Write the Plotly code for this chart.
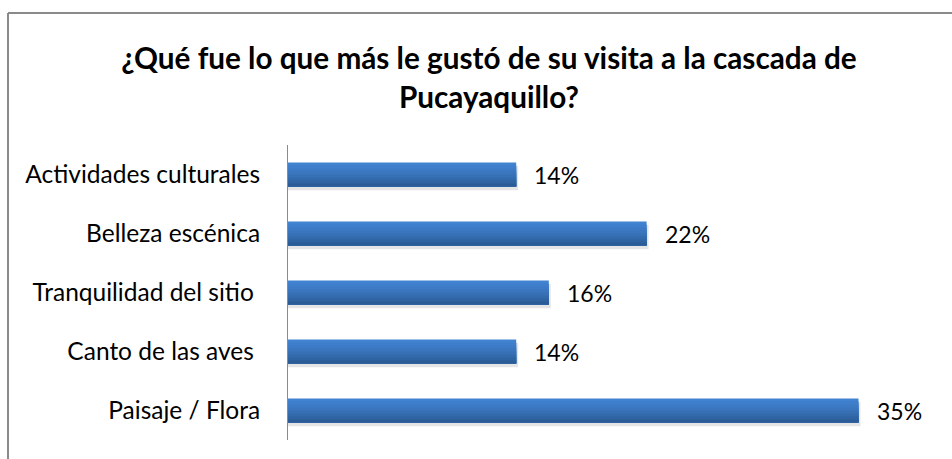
import plotly.graph_objects as go

# Survey answers (percent of respondents)
categories = [
    "Actividades culturales",
    "Belleza escénica",
    "Tranquilidad del sitio\u00a0",
    "Canto de las aves\u00a0",
    "Paisaje / Flora",
]
values = [14, 22, 16, 14, 35]
value_labels = ["14%", "22%", "16%", "14%", "35%"]

title_text = "<b>¿Qué fue lo que más le gustó de su visita a la cascada de<br>Pucayaquillo?</b>"

# Vertical gradient of each bar, top to bottom
stripe_colors = ["#4183d0", "#3e7ecb", "#3c7ac5", "#3a75bd", "#3770b5", "#336aab", "#2f63a1", "#2b5c96"]

W, H = 952, 459
L, R, T, B = 288, 12, 145, 19
X_MAX = 40
bar_h = 0.41

fig = go.Figure()

# soft drop shadow under each bar
fig.add_trace(go.Bar(
    x=[v + 0.12 for v in values], y=categories, orientation="h",
    width=bar_h, offset=-bar_h / 2 + 0.06,
    marker=dict(color="rgba(0,0,0,0.10)", line=dict(width=0)),
    hoverinfo="skip", showlegend=False,
))

# each band runs from its own top edge down to the bar bottom, so later
# bands cover the lower part of earlier ones without leaving seams
n = len(stripe_colors)
for i, c in enumerate(stripe_colors):
    top = -bar_h / 2 + i * bar_h / n
    fig.add_trace(go.Bar(
        x=values, y=categories, orientation="h",
        width=bar_h / 2 - top, offset=top,
        marker=dict(color=c, line=dict(width=0)),
        hoverinfo="skip", showlegend=False,
    ))

for cat, v, lab in zip(categories, values, value_labels):
    fig.add_annotation(
        x=v, y=cat, text=lab, showarrow=False,
        xanchor="left", yanchor="middle", xshift=16,
        font=dict(family="Lato", size=23, color="#000000"),
    )

pw, ph = W - L - R, H - T - B


def px_x(p):
    return (p - L) / pw


def px_y(p):
    return (H - B - p) / ph


# chart frame (left and top edges)
frame = dict(type="line", xref="paper", yref="paper", line=dict(color="#8a8a8a", width=2))
fig.add_shape(**frame, x0=px_x(8), x1=px_x(8), y0=px_y(13), y1=px_y(470))
fig.add_shape(**frame, x0=px_x(8), x1=px_x(960), y0=px_y(13), y1=px_y(13))

fig.update_layout(
    width=W, height=H,
    margin=dict(l=L, r=R, t=T, b=B),
    paper_bgcolor="white", plot_bgcolor="white",
    barmode="overlay",
    title=dict(
        text=title_text, xref="container", yref="container",
        x=489 / W, xanchor="center", y=1 - 69 / H, yanchor="top",
        font=dict(family="Lato", size=29.7, color="#000000"),
    ),
    xaxis=dict(range=[0, X_MAX], visible=False, fixedrange=True),
    yaxis=dict(
        categoryorder="array", categoryarray=categories,
        autorange="reversed",
        showline=True, linecolor="#8a8a8a", linewidth=1,
        showgrid=False, zeroline=False,
        ticks="outside", ticklen=0, ticklabelstandoff=22,
        tickfont=dict(family="Lato", size=24.5, color="#000000"),
        fixedrange=True,
    ),
    showlegend=False,
)

fig.write_html("out.html")
